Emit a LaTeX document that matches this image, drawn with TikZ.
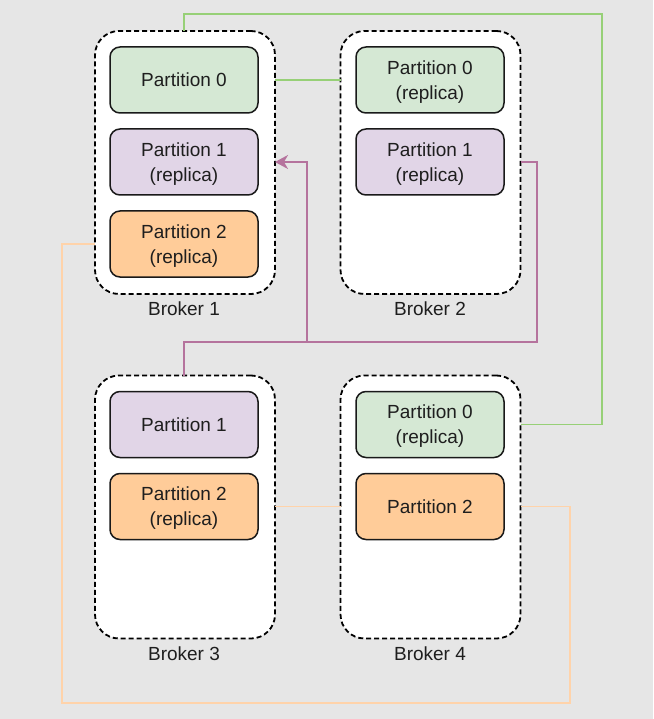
\documentclass[tikz,border=0pt]{standalone}
\usepackage{fontspec}
\setmainfont{Liberation Sans}
\usetikzlibrary{arrows.meta}
\definecolor{bgc}{HTML}{E6E6E6}
\definecolor{gfill}{HTML}{D5E8D4}
\definecolor{pfill}{HTML}{E1D5E7}
\definecolor{ofill}{HTML}{FFCC99}
\definecolor{gline}{HTML}{97D077}
\definecolor{pline}{HTML}{B5739D}
\definecolor{oline}{HTML}{FFD3AA}
\definecolor{txt}{HTML}{1E1E1E}
\tikzset{
  broker/.style={draw=black, fill=white, line width=1.8pt, dash pattern=on 5pt off 3pt,
    rounded corners=24pt, minimum width=180pt, minimum height=263pt, outer sep=0pt, inner sep=0pt},
  part/.style={draw=black!90, line width=1.5pt, rounded corners=10pt, minimum width=148pt,
    minimum height=66pt, outer sep=0pt, inner sep=0pt, align=center, text=txt,
    font=\fontsize{19pt}{25pt}\selectfont},
  pg/.style={part, fill=gfill},
  pp/.style={part, fill=pfill},
  po/.style={part, fill=ofill},
  lbl/.style={text=txt, font=\fontsize{19pt}{25pt}\selectfont, inner sep=0pt},
  gconn/.style={draw=gline, line width=1.5pt},
  pconn/.style={draw=pline, line width=1.5pt},
  oconn/.style={draw=oline, line width=1.6pt},
}
\begin{document}
\begin{tikzpicture}[x=1pt, y=-1pt]
\useasboundingbox (0,0) rectangle (653,719);
\fill[bgc] (0,0) rectangle (653,719);

% brokers
\node[broker] (b1) at (185,162.5) {};
\node[broker] (b2) at (430.5,162.5) {};
\node[broker] (b3) at (185,507) {};
\node[broker] (b4) at (430.5,507) {};

% labels
\node[lbl] (l1) at (184,309) {Broker 1};
\node[lbl] (l2) at (430,309) {Broker 2};
\node[lbl] (l3) at (184,654) {Broker 3};
\node[lbl] (l4) at (430,654) {Broker 4};

% partitions
\node[pg] (b1p0) at (184,80) {Partition 0};
\node[pp] (b1p1) at (184,162) {\rule{0pt}{17pt}Partition 1\\(replica)};
\node[po] (b1p2) at (184,244) {\rule{0pt}{17pt}Partition 2\\(replica)};

\node[pg] (b2p0) at (430,80) {\rule{0pt}{17pt}Partition 0\\(replica)};
\node[pp] (b2p1) at (430,162) {\rule{0pt}{17pt}Partition 1\\(replica)};

\node[pp] (b3p1) at (184,424.5) {Partition 1};
\node[po] (b3p2) at (184,506.5) {\rule{0pt}{17pt}Partition 2\\(replica)};

\node[pg] (b4p0) at (430,424.5) {\rule{0pt}{17pt}Partition 0\\(replica)};
\node[po] (b4p2) at (430,506.5) {Partition 2};

% connector corner points
\coordinate (gt) at (184,14);
\coordinate (gr) at (602,14);
\coordinate (pr) at (537,162);
\coordinate (pj) at (307,342);
\coordinate (ol) at (62,703);
\coordinate (or) at (570,703);

% green
\draw[gconn] (b1.north -| gt) -- (gt) -- (gr) |- (b4.east |- b4p0);
\draw[gconn] (b1.east |- b1p0) -- (b2.west |- b1p0);

% purple
\draw[pconn] (b2.east |- b2p1) -- (pr) |- (pj) -| (b3.north -| gt);
\draw[pconn, -{Stealth[length=13pt, width=14pt, inset=4pt]}] (pj) |- (b1.east |- b1p1);

% orange
\draw[oconn] (b1.west |- b1p2) -| (ol) -- (or) |- (b4.east |- b4p2);
\draw[oconn] (b3.east |- b3p2) -- (b4.west |- b3p2);
\end{tikzpicture}
\end{document}
